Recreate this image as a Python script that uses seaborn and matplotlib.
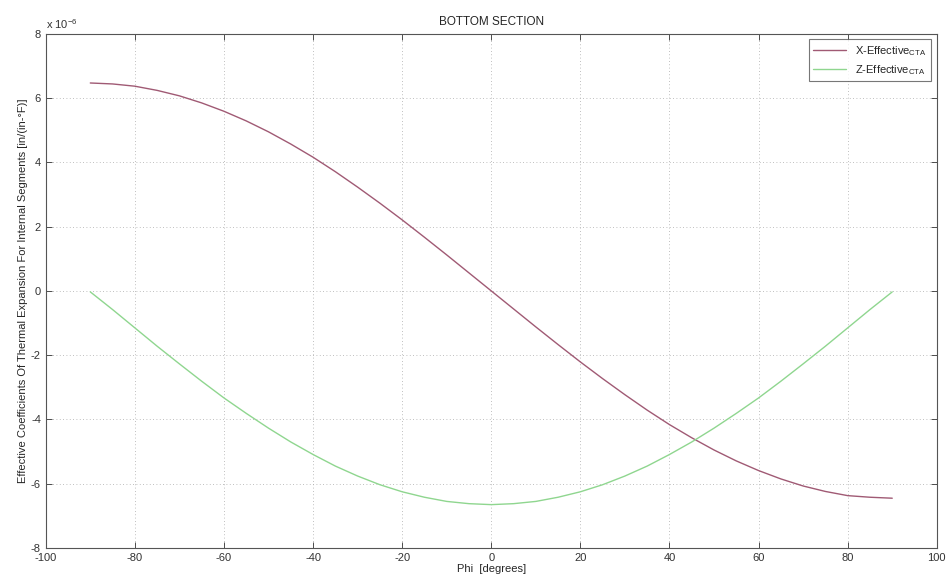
import numpy as np
import pandas as pd
import matplotlib
matplotlib.use("Agg")
import matplotlib.pyplot as plt
import seaborn as sns

phi = [-90, -85, -80, -75, -70, -65, -60, -55, -50, -45, -40, -35, -30, -25, -20, -15, -10, -5,
       0, 5, 10, 15, 20, 25, 30, 35, 40, 45, 50, 55, 60, 65, 70, 75, 80, 85, 90]
x_eff = [6.47, 6.44, 6.37, 6.24, 6.07, 5.85, 5.59, 5.29, 4.95, 4.57, 4.16, 3.71, 3.23, 2.73, 2.21, 1.67, 1.12, 0.56,
         0.0, -0.56, -1.12, -1.67, -2.21, -2.73, -3.23, -3.71, -4.16, -4.57, -4.95, -5.29, -5.59, -5.85, -6.07, -6.24, -6.37, -6.42, -6.45]
z_eff = [-0.03, -0.58, -1.15, -1.72, -2.27, -2.81, -3.33, -3.81, -4.27, -4.70, -5.09, -5.45, -5.76, -6.03, -6.25, -6.42, -6.55, -6.62,
         -6.65, -6.62, -6.55, -6.42, -6.25, -6.03, -5.76, -5.45, -5.09, -4.70, -4.27, -3.81, -3.33, -2.81, -2.27, -1.72, -1.15, -0.58, -0.03]
series_names = ["X-Effective$_{\\mathrm{CTA}}$", "Z-Effective$_{\\mathrm{CTA}}$"]
xticks = [-100, -80, -60, -40, -20, 0, 20, 40, 60, 80, 100]
yticks = [-8, -6, -4, -2, 0, 2, 4, 6, 8]

df = pd.DataFrame({
    "phi": phi * 2,
    "val": x_eff + z_eff,
    "series": [series_names[0]] * len(phi) + [series_names[1]] * len(phi),
})

sns.set_theme(style="white")
plt.rcParams["font.family"] = ["Liberation Sans", "DejaVu Sans"]
plt.rcParams["mathtext.fontset"] = "custom"
plt.rcParams["mathtext.rm"] = "Liberation Sans"
plt.rcParams["axes.unicode_minus"] = False

fig = plt.figure(figsize=(9.53, 5.83), dpi=100)
ax = fig.add_axes([0.048, 0.06, 0.935, 0.882])

sns.lineplot(data=df, x="phi", y="val", hue="series", palette=["#a05a74", "#8fd68f"],
             linewidth=1.0, ax=ax, legend=True)

ax.set_xlim(-100, 100)
ax.set_ylim(-8, 8)
ax.set_xticks(xticks)
ax.set_yticks(yticks)
ax.tick_params(direction="in", length=4, labelsize=8, colors="#333333", width=0.6)
ax.grid(True, linestyle=(0, (1, 3)), color="#aaaaaa", linewidth=0.6)
for s in ax.spines.values():
    s.set_color("#555555")
    s.set_linewidth(0.8)
ax.tick_params(top=True, right=True, bottom=True, left=True)

ax.set_xlabel("Phi  [degrees]", fontsize=8, labelpad=1)
ax.set_ylabel("Effective Coefficients Of Thermal Expansion For Internal Segments [in/(in-\u00b0F)]", fontsize=8, labelpad=2)
ax.set_title("BOTTOM SECTION", fontsize=8.5, pad=6)
ax.text(0.0, 1.005, "x 10$^{-6}$", transform=ax.transAxes, fontsize=8, ha="left", va="bottom", color="#333333")

leg = ax.legend(loc="upper right", fontsize=8, frameon=True, fancybox=False,
                edgecolor="#555555", handlelength=3, borderaxespad=0.5)
leg.get_frame().set_linewidth(0.8)

fig.savefig("out.png", dpi=100, facecolor="white")
